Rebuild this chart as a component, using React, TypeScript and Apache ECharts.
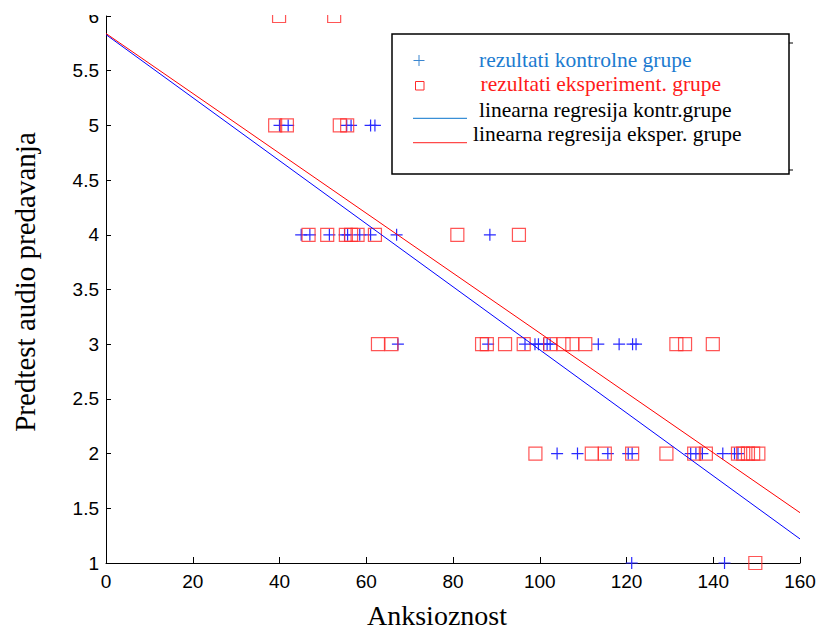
import { useEffect, useRef } from "react";
import * as echarts from "echarts";

// ---- data ----
const scoreLevels = [6, 5, 4, 3, 2, 1];

const controlScore6: number[] = [];
const controlScore5 = [40, 42, 55.5, 56.5, 61, 62];
const controlScore4 = [45, 47, 51.5, 55, 55.7, 58.5, 61, 67, 88.5];
const controlScore3 = [67.3, 88.1, 96.6, 98.9, 99.7, 100.9, 101.7, 102.4, 113.5, 118.3, 121.4, 122.2];
const controlScore2 = [104, 108.7, 115.7, 120.4, 121.3, 134.8, 136, 137.5, 142.2, 144.9, 145.7];
const controlScore1 = [121.2, 142.6];

const experScore6 = [39.9, 52.6];
const experScore5 = [39, 41.7, 53.9, 55.6];
const experScore4 = [46.7, 51, 55.3, 56.5, 58, 62, 81, 95.2];
const experScore3 = [62.7, 65.8, 86.7, 87.8, 92, 96.3, 102.4, 105.5, 107.5, 110.5, 131.5, 133.5, 139.9];
const experScore2 = [99, 112, 115, 121.3, 129.2, 135.6, 138.3, 145.7, 146.9, 148, 149.2, 150.4];
const experScore1 = [149.7];

const regressionX = [0, 160];
const controlRegressionY = [5.83, 1.22];
const experRegressionY = [5.84, 1.46];

const xAxisMin = 0;
const xAxisMax = 160;
const xAxisStep = 20;
const yAxisMin = 1;
const yAxisMax = 6;
const yAxisStep = 0.5;

const legendLabels = [
  "rezultati kontrolne grupe",
  "rezultati eksperiment. grupe",
  "linearna regresija kontr.grupe",
  "linearna regresija eksper. grupe",
];
const xAxisTitle = "Anksioznost";
const yAxisTitle = "Predtest audio predavanja";

const controlByLevel = [controlScore6, controlScore5, controlScore4, controlScore3, controlScore2, controlScore1];
const experByLevel = [experScore6, experScore5, experScore4, experScore3, experScore2, experScore1];

const toPoints = (groups: number[][]) =>
  scoreLevels.flatMap((lv, i) => groups[i].map((x) => [x, lv]));

const PLUS = "path://M4.5,0H5.5V4.5H10V5.5H5.5V10H4.5V5.5H0V4.5H4.5Z";
const SERIF = "'Liberation Serif', 'Times New Roman', serif";
const SANS = "'Liberation Sans', Arial, sans-serif";

export default function App() {
  const ref = useRef<HTMLDivElement>(null);

  useEffect(() => {
    if (!ref.current) return;
    const chart = echarts.init(ref.current, undefined, { renderer: "svg" });

    const legendTextX = [479, 480.5, 479, 473];
    const legendTextY = [59.5, 84, 109.5, 134];
    const legendTextColor = ["#1c7bd0", "#ff1a1a", "#000", "#000"];

    chart.setOption({
      animation: false,
      backgroundColor: "#fff",
      grid: { left: 106, right: 19, top: 16, bottom: 67, containLabel: false },
      xAxis: {
        type: "value",
        min: xAxisMin,
        max: xAxisMax,
        interval: xAxisStep,
        axisLine: { show: true, lineStyle: { color: "#000", width: 1 } },
        axisTick: { show: true, inside: true, length: 6, lineStyle: { color: "#000" } },
        axisLabel: { color: "#000", fontSize: 19, fontFamily: SANS, margin: 9 },
        splitLine: { show: false },
      },
      yAxis: {
        type: "value",
        min: yAxisMin,
        max: yAxisMax,
        interval: yAxisStep,
        axisLine: { show: true, lineStyle: { color: "#000", width: 1 } },
        axisTick: { show: true, inside: true, length: 5, lineStyle: { color: "#000" } },
        axisLabel: { color: "#000", fontSize: 19, fontFamily: SANS, margin: 7 },
        splitLine: { show: false },
      },
      series: [
        {
          type: "scatter",
          name: legendLabels[0],
          data: toPoints(controlByLevel),
          symbol: PLUS,
          symbolSize: 12,
          itemStyle: { color: "#2a2aff", opacity: 1 },
          z: 3,
        },
        {
          type: "scatter",
          name: legendLabels[1],
          data: toPoints(experByLevel),
          symbol: "rect",
          symbolSize: 13,
          itemStyle: { color: "rgba(0,0,0,0)", borderColor: "#ff2a2a", borderWidth: 1.2 },
          z: 3,
        },
        {
          type: "line",
          name: legendLabels[2],
          data: regressionX.map((x, i) => [x, controlRegressionY[i]]),
          showSymbol: false,
          symbol: "none",
          lineStyle: { color: "#0000ff", width: 1 },
          z: 4,
        },
        {
          type: "line",
          name: legendLabels[3],
          data: regressionX.map((x, i) => [x, experRegressionY[i]]),
          showSymbol: false,
          symbol: "none",
          lineStyle: { color: "#ff0000", width: 1 },
          z: 4,
        },
      ],
      graphic: [
        // top clip (reference is cut at the top of the plot)
        { type: "rect", left: 0, top: 0, shape: { width: 819, height: 15 }, style: { fill: "#fff" }, z: 100 },
        // axis titles
        {
          type: "text",
          x: 437,
          y: 615,
          style: { text: xAxisTitle, fontSize: 28, fontFamily: SERIF, fill: "#000", textAlign: "center", textVerticalAlign: "middle" },
          z: 101,
        },
        {
          type: "text",
          x: 25,
          y: 282,
          rotation: Math.PI / 2,
          style: { text: yAxisTitle, fontSize: 29, fontFamily: SERIF, fill: "#000", textAlign: "center", textVerticalAlign: "middle" },
          z: 101,
        },
        // legend box
        {
          type: "rect",
          shape: { x: 392, y: 34, width: 397, height: 140 },
          style: { fill: "#fff", stroke: "#000", lineWidth: 1.5 },
          z: 110,
        },
        { type: "line", shape: { x1: 789, y1: 43, x2: 793, y2: 43 }, style: { stroke: "#000", lineWidth: 1 }, z: 110 },
        { type: "line", shape: { x1: 789, y1: 170, x2: 793, y2: 170 }, style: { stroke: "#000", lineWidth: 1 }, z: 110 },
        // legend icons
        { type: "line", shape: { x1: 413.5, y1: 60.5, x2: 424.5, y2: 60.5 }, style: { stroke: "#3a86d0", lineWidth: 1 }, z: 111 },
        { type: "line", shape: { x1: 419, y1: 55, x2: 419, y2: 66 }, style: { stroke: "#3a86d0", lineWidth: 1 }, z: 111 },
        { type: "rect", shape: { x: 415.5, y: 81.5, width: 8.5, height: 8.5 }, style: { fill: "none", stroke: "#ff2a2a", lineWidth: 1 }, z: 111 },
        { type: "line", shape: { x1: 413, y1: 118.3, x2: 467, y2: 118.3 }, style: { stroke: "#3a8fd6", lineWidth: 1.2 }, z: 111 },
        { type: "line", shape: { x1: 413, y1: 142.7, x2: 467, y2: 142.7 }, style: { stroke: "#ff4a4a", lineWidth: 1.2 }, z: 111 },
        ...legendLabels.map((t, i) => ({
          type: "text",
          x: legendTextX[i],
          y: legendTextY[i],
          style: {
            text: t,
            fontSize: 21.5,
            fontFamily: SERIF,
            fill: legendTextColor[i],
            textAlign: "left",
            textVerticalAlign: "middle",
          },
          z: 112,
        })),
      ],
    });

    return () => chart.dispose();
  }, []);

  return (
    <div
      ref={ref}
      style={{ position: "fixed", left: 0, top: 0, width: 819, height: 630, background: "#fff" }}
    />
  );
}
